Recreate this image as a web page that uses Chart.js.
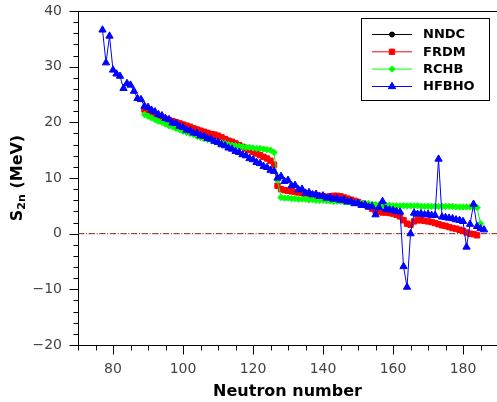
<!DOCTYPE html>
<html>
<head>
<meta charset="utf-8">
<script src="https://cdn.jsdelivr.net/npm/chart.js@4/dist/chart.umd.min.js"></script>
<style>
html,body{margin:0;padding:0;background:#fff;}
#wrap{width:497px;height:402px;}
</style>
</head>
<body>
<div id="wrap"><canvas id="c" width="497" height="402"></canvas></div>
<script>
// Neutron numbers (categories)
const neutronNumbers = [77,78,79,80,81,82,83,84,85,86,87,88,89,90,91,92,93,94,95,96,97,98,99,100,
101,102,103,104,105,106,107,108,109,110,111,112,113,114,115,116,117,118,119,120,121,122,123,124,125,126,
127,128,129,130,131,132,133,134,135,136,137,138,139,140,141,142,143,144,145,146,147,148,149,150,
151,152,153,154,155,156,157,158,159,160,161,162,163,164,165,166,167,168,169,170,171,172,173,174,175,
176,177,178,179,180,181,182,183,184,185,186];

// S2n values (MeV), aligned with neutronNumbers
const hfbho = [36.6,30.7,35.5,29.4,28.7,28.3,26.1,27.0,26.7,25.6,24.3,24.1,22.9,22.7,22.2,21.9,21.4,21.2,20.7,20.5,
19.9,19.8,19.3,19.1,18.6,18.5,18.1,18.0,17.6,17.5,17.1,17.0,16.6,16.4,16.0,15.8,15.4,15.2,14.8,14.6,
14.2,14.0,13.5,13.3,12.8,12.6,12.1,11.9,11.4,11.2,10.0,10.3,9.4,9.6,8.6,8.7,7.9,8.0,7.3,7.4,
7.0,7.1,6.7,6.8,6.4,6.5,6.2,6.3,6.0,6.1,5.7,5.8,5.4,5.5,5.1,5.2,4.8,4.9,3.4,4.7,
5.8,4.4,4.3,4.2,4.0,3.9,-5.9,-9.6,0.0,3.7,3.5,3.6,3.4,3.5,3.3,3.3,13.4,3.0,2.9,2.8,
2.7,2.5,2.4,2.2,-2.4,1.7,5.3,1.3,0.9,0.7];

const frdm = [null,null,null,null,null,null,null,null,null,null,null,null,
22.3,22.0,21.6,21.3,21.1,20.8,20.6,20.4,20.2,20.0,19.8,19.6,19.4,19.2,18.9,18.7,18.5,18.3,18.1,17.9,
17.8,17.6,17.3,17.0,16.7,16.5,16.2,15.9,15.6,15.3,15.0,14.7,14.4,14.1,13.8,13.5,13.1,12.4,
8.6,8.0,7.8,7.7,7.6,7.5,7.4,7.3,7.2,7.1,7.0,6.9,6.8,6.7,6.6,6.7,6.8,6.8,6.7,6.5,
6.3,6.1,5.9,5.7,5.4,5.2,4.9,4.5,4.1,3.9,3.8,3.8,3.7,3.6,3.4,3.1,2.4,1.8,1.6,2.2,
2.4,2.4,2.3,2.2,2.1,1.9,1.7,1.5,1.4,1.2,1.0,0.9,0.7,0.5,0.2,0.0,-0.1,-0.3,null,null];

const rchb = [null,null,null,null,null,null,null,null,null,null,null,null,
21.4,21.1,20.8,20.5,20.2,20.0,19.7,19.4,19.2,18.9,18.7,18.4,18.2,18.0,17.8,17.5,17.3,17.1,16.9,16.8,
16.6,16.4,16.3,16.2,16.0,15.9,15.8,15.7,15.6,15.5,15.5,15.4,15.3,15.3,15.2,15.1,15.0,14.6,
9.6,6.5,6.4,6.4,6.3,6.3,6.2,6.2,6.2,6.1,6.1,6.0,6.0,6.0,5.9,5.9,5.8,5.8,5.8,5.7,
5.7,5.6,5.6,5.5,5.5,5.4,5.4,5.3,5.2,5.2,5.1,5.1,5.1,5.0,5.0,5.0,5.0,5.0,5.0,5.0,
5.0,4.9,4.9,4.9,4.9,4.9,4.9,4.9,4.9,4.9,4.9,4.8,4.8,4.8,4.8,4.8,4.8,4.7,1.8,null];

const nndc = [null,null,null,null,null,null,null,null,null,null,null,null,
22.3,22.0,21.6,21.3,21.1,20.8,20.6,20.4,20.2,20.0,19.8,19.6,19.4,19.2,18.9,18.7,18.5,18.3,18.1,17.9,
17.8,17.6,17.3,17.0,16.7,16.5,16.2,15.9,15.6,15.3];

// Axis ticks
const xMajorTicks = [80,100,120,140,160,180];
const xMinorTicks = [70,75,85,90,95,105,110,115,125,130,135,145,150,155,165,170,175,185];
const yMajorTicks = [-20,-10,0,10,20,30,40];
const yMinorTicks = [-18,-16,-14,-12,-8,-6,-4,-2,2,4,6,8,12,14,16,18,22,24,26,28,32,34,36,38];
const xRange = [70, 189.7];
const yRange = [-20, 40];
const zeroLevel = 0;

function toPoints(vals){
  const pts = [];
  vals.forEach((v,i)=>{ if(v!==null && v!==undefined) pts.push({x:neutronNumbers[i], y:v}); });
  return pts;
}

const FONT = "'DejaVu Sans', 'Liberation Sans', sans-serif";

const seriesStyles = [
  {label:'NNDC', color:'#000000', style:'circle', r:2.5},
  {label:'FRDM', color:'#ff0000', style:'rect', r:3.8},
  {label:'RCHB', color:'#00ff00', style:'rectRot', r:3.2},
  {label:'HFBHO', color:'#0000ff', style:'triangle', r:4.2}
];

function mkDataset(s, vals, order){
  return {
    label:s.label, data:toPoints(vals), showLine:true,
    borderColor:s.color, backgroundColor:s.color, borderWidth:1,
    pointStyle:s.style, pointRadius:s.r, pointBorderWidth:1,
    pointBorderColor:s.color, pointBackgroundColor:s.color,
    tension:0, order:order
  };
}

function drawMarker(ctx, style, x, y, r, color){
  ctx.save();
  ctx.fillStyle = color; ctx.strokeStyle = color; ctx.lineWidth = 1;
  ctx.beginPath();
  if(style==='circle'){ ctx.arc(x,y,r,0,Math.PI*2); }
  else if(style==='rect'){ const s=r*Math.SQRT1_2; ctx.rect(x-s,y-s,2*s,2*s); }
  else if(style==='rectRot'){ ctx.moveTo(x,y-r); ctx.lineTo(x+r,y); ctx.lineTo(x,y+r); ctx.lineTo(x-r,y); ctx.closePath(); }
  else if(style==='triangle'){
    let a=0; ctx.moveTo(x+Math.sin(a)*r, y-Math.cos(a)*r);
    a+=2*Math.PI/3; ctx.lineTo(x+Math.sin(a)*r, y-Math.cos(a)*r);
    a+=2*Math.PI/3; ctx.lineTo(x+Math.sin(a)*r, y-Math.cos(a)*r); ctx.closePath();
  }
  ctx.fill(); ctx.stroke();
  ctx.restore();
}

const decorPlugin = {
  id:'decor',
  afterDraw(chart){
    const ctx = chart.ctx, xs = chart.scales.x, ys = chart.scales.y, ca = chart.chartArea;
    ctx.save();
    ctx.strokeStyle = '#000'; ctx.lineWidth = 1;
    // top spine
    ctx.beginPath(); ctx.moveTo(ca.left, Math.round(ca.top)+0.5); ctx.lineTo(ca.right, Math.round(ca.top)+0.5); ctx.stroke();
    // x ticks
    const yb = Math.round(ca.bottom)+0.5;
    ctx.beginPath();
    xMajorTicks.forEach(v=>{ const p=Math.round(xs.getPixelForValue(v))+0.5; ctx.moveTo(p,yb); ctx.lineTo(p,yb+9); });
    xMinorTicks.forEach(v=>{ const p=Math.round(xs.getPixelForValue(v))+0.5; ctx.moveTo(p,yb); ctx.lineTo(p,yb+5); });
    // y ticks
    const xl = Math.round(ca.left)+0.5;
    yMajorTicks.forEach(v=>{ const p=Math.round(ys.getPixelForValue(v))+0.5; ctx.moveTo(xl,p); ctx.lineTo(xl-9,p); });
    yMinorTicks.forEach(v=>{ const p=Math.round(ys.getPixelForValue(v))+0.5; ctx.moveTo(xl,p); ctx.lineTo(xl-5,p); });
    ctx.stroke();

    // y axis title with subscript
    ctx.save();
    const cy = (ca.top+ca.bottom)/2;
    ctx.translate(18, cy);
    ctx.rotate(-Math.PI/2);
    ctx.fillStyle = '#000';
    ctx.textBaseline = 'middle';
    const big = "bold 16px " + FONT, small = "bold 11px " + FONT;
    ctx.font = big; const wS = ctx.measureText('S').width; const wR = ctx.measureText(' (MeV)').width;
    ctx.font = small; const wSub = ctx.measureText('2n').width;
    let x0 = -(wS+wSub+wR)/2;
    ctx.font = big; ctx.textAlign='left'; ctx.fillText('S', x0, 0);
    ctx.font = small; ctx.fillText('2n', x0+wS, 4);
    ctx.font = big; ctx.fillText(' (MeV)', x0+wS+wSub, 0);
    ctx.restore();

    // legend
    const bx=361.5, by=18.5, bw=128, bh=82;
    ctx.fillStyle='#fff'; ctx.fillRect(bx,by,bw,bh);
    ctx.strokeStyle='#000'; ctx.lineWidth=1; ctx.strokeRect(bx,by,bw,bh);
    const rows=[34,51.3,68.6,86];
    seriesStyles.forEach((s,i)=>{
      const yy = rows[i];
      ctx.strokeStyle = s.color; ctx.lineWidth=1;
      ctx.beginPath(); ctx.moveTo(372, yy+0.5); ctx.lineTo(412, yy+0.5); ctx.stroke();
      drawMarker(ctx, s.style, 392, yy+0.5, s.r, s.color);
      ctx.fillStyle='#000'; ctx.font = "bold 13px " + FONT; ctx.textAlign='left'; ctx.textBaseline='middle';
      ctx.fillText(s.label, 423, yy+1);
    });
    ctx.restore();
  }
};

const datasets = [
  mkDataset(seriesStyles[3], hfbho, 0),
  mkDataset(seriesStyles[2], rchb, 1),
  mkDataset(seriesStyles[1], frdm, 2),
  mkDataset(seriesStyles[0], nndc, 3),
  {label:'zero', data:[{x:xRange[0],y:zeroLevel},{x:xRange[1],y:zeroLevel}], showLine:true,
   borderColor:'#8b1f1f', borderWidth:1, borderDash:[6.4,1.6,1,1.6], pointRadius:0, order:4}
];

new Chart(document.getElementById('c'), {
  type:'line',
  data:{datasets},
  options:{
    responsive:false, animation:false, devicePixelRatio:1,
    layout:{autoPadding:false, padding:{top:11,right:0,left:0,bottom:0}},
    plugins:{legend:{display:false}, tooltip:{enabled:false}},
    elements:{line:{tension:0}},
    scales:{
      x:{type:'linear', min:xRange[0], max:xRange[1],
         afterBuildTicks(s){ s.ticks = xMajorTicks.map(v=>({value:v})); },
         afterFit(s){ s.height = 57; s.paddingLeft = 0; s.paddingRight = 0; s.paddingTop = 0; s.paddingBottom = 0; },
         grid:{display:false, drawTicks:false},
         border:{display:true, color:'#000', width:1},
         ticks:{color:'#444', font:{family:FONT, size:14}, padding:16, maxRotation:0, autoSkip:false},
         title:{display:true, text:'Neutron number', color:'#000', font:{family:FONT, size:16, weight:'bold'}, padding:{top:0,bottom:1}}
      },
      y:{type:'linear', min:yRange[0], max:yRange[1],
         afterBuildTicks(s){ s.ticks = yMajorTicks.map(v=>({value:v})); },
         afterFit(s){ s.width = 78; s.paddingLeft = 0; s.paddingRight = 0; s.paddingTop = 0; s.paddingBottom = 0; },
         grid:{display:false, drawTicks:false},
         border:{display:true, color:'#000', width:1},
         ticks:{color:'#444', font:{family:FONT, size:14}, padding:16, autoSkip:false,
           callback:(v)=> v<0 ? '\u2212'+Math.abs(v) : String(v)}
      }
    }
  },
  plugins:[decorPlugin]
});
</script>
</body>
</html>
